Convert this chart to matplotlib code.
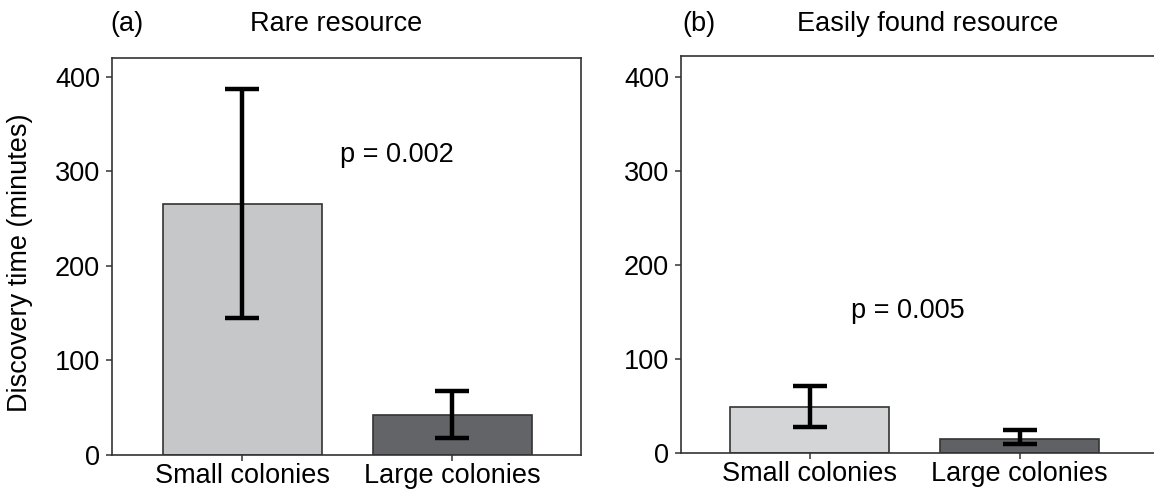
import matplotlib
matplotlib.use("Agg")
import matplotlib.pyplot as plt

plt.rcParams['font.family'] = ['Liberation Sans', 'DejaVu Sans']

categories = ["Small colonies", "Large colonies"]
rare_means = [266, 42]
rare_lower = [145, 18]
rare_upper = [387, 68]
easy_means = [49, 15]
easy_lower = [28, 9.5]
easy_upper = [71, 24]
p_values = ["p = 0.002", "p = 0.005"]
panel_labels = ["(a)", "(b)"]
titles = ["Rare resource", "Easily found resource"]
yticks = [0, 100, 200, 300, 400]

W, H = 1154, 495
fig = plt.figure(figsize=(W / 100, H / 100), dpi=100)

def fx(px):
    return px / W

def fy(py):
    return 1 - py / H

ax1 = fig.add_axes([fx(112), fy(455), fx(581) - fx(112), fy(58) - fy(455)])
ax2 = fig.add_axes([fx(681), fy(453), fx(1154) - fx(681), fy(56) - fy(453)])

spine_col = "#333333"
fs = 19.5

def draw(ax, means, lo, hi, colors, xlim, ylim, ptext, pxy, right_spine=True):
    x = list(range(len(categories)))
    ax.bar(x, means, width=0.755, color=colors, edgecolor=spine_col, linewidth=1.2, zorder=2)
    yerr = [[m - l for m, l in zip(means, lo)], [h - m for m, h in zip(means, hi)]]
    ax.errorbar(x, means, yerr=yerr, fmt='none', ecolor='black', elinewidth=3.2,
                capsize=12, capthick=3.2, zorder=3)
    ax.set_xlim(*xlim)
    ax.set_ylim(*ylim)
    ax.set_xticks(x)
    ax.set_xticklabels(categories, fontsize=fs)
    ax.set_yticks(yticks)
    ax.set_yticklabels([str(t) for t in yticks], fontsize=fs)
    ax.tick_params(axis='both', direction='out', length=4.5, width=1.1, color=spine_col)
    ax.tick_params(axis='x', pad=1)
    ax.tick_params(axis='y', pad=4)
    for s in ax.spines.values():
        s.set_color(spine_col)
        s.set_linewidth(1.2)
    if not right_spine:
        ax.spines['right'].set_visible(False)
    ax.text(pxy[0], pxy[1], ptext, fontsize=fs, ha='center', va='center')

draw(ax1, rare_means, rare_lower, rare_upper, ["#c6c7c9", "#636468"],
     (-0.62, 1.613), (0, 420), p_values[0], (0.738, 317))
draw(ax2, easy_means, easy_lower, easy_upper, ["#d4d5d7", "#606165"],
     (-0.612, 1.64), (0, 422), p_values[1], (0.469, 151), right_spine=False)

fig.text(fx(20), fy(263), "Discovery time (minutes)", rotation=90, fontsize=fs,
         ha='center', va='center')
fig.text(fx(110), fy(24), panel_labels[0], fontsize=fs, ha='left', va='center')
fig.text(fx(336), fy(24), titles[0], fontsize=fs, ha='center', va='center')
fig.text(fx(682), fy(24), panel_labels[1], fontsize=fs, ha='left', va='center')
fig.text(fx(928), fy(24), titles[1], fontsize=fs, ha='center', va='center')

fig.savefig("out.png", dpi=100)
